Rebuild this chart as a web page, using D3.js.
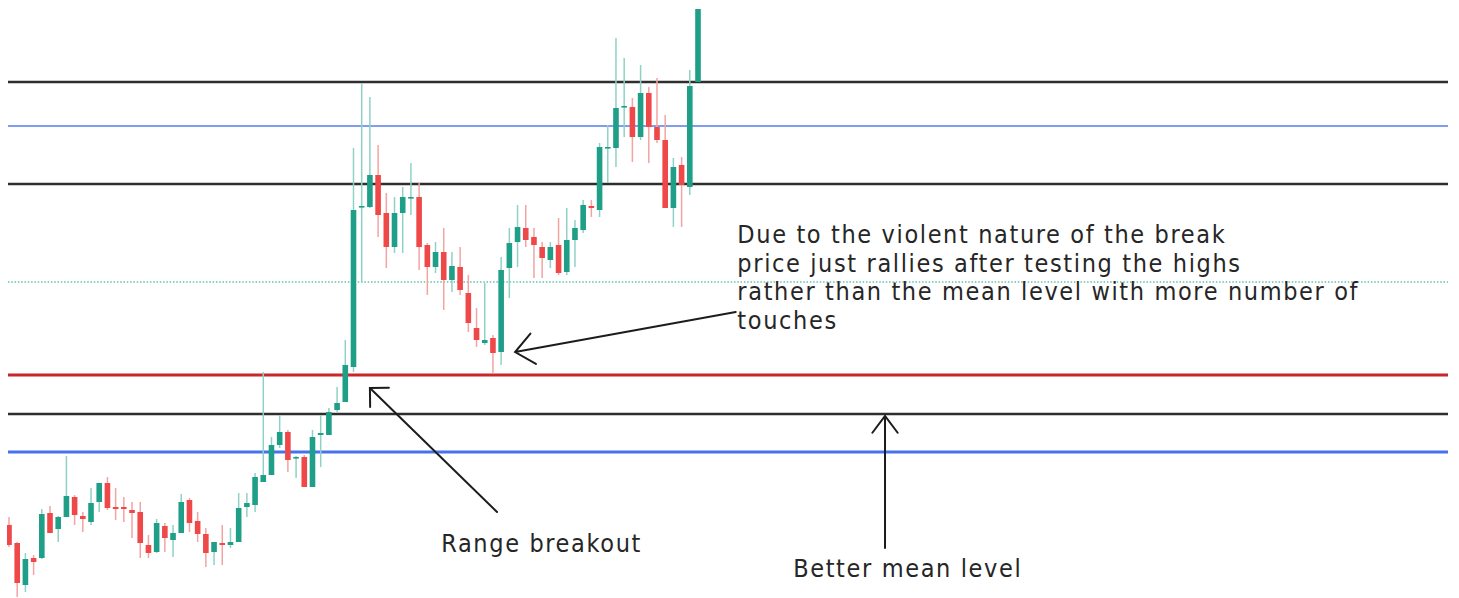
<!DOCTYPE html>
<meta charset="utf-8">
<style>
    body {
        margin: 0;
        background: #fff;
    }

    svg {
        display: block;
    }

    .wick {
        stroke-width: 1.5;
    }

    .note {
        font-family: "DejaVu Sans Condensed", "DejaVu Sans", sans-serif;
        font-size: 25px;
        fill: #262626;
    }

    .arrow {
        fill: none;
        stroke: #1c1c1c;
        stroke-width: 2;
        stroke-linecap: round;
    }
</style>
<body>
<script src="https://cdn.jsdelivr.net/npm/d3@7"></script>
<script>
    const width = 1459;
    const height = 598;

    // candles (price units, 0 = bottom of view)
    const opens = [75,57,15,42,42,87,71,83,103,84, 78,98,117,93,93,90,88,55,48,74,
        60,67,100,79,66,48,57,55,58,93, 95,118,125,155,168,142,143,113,165,165,
        190,198,233,393,393,425,387,353,387,402, 403,355,333,348,320,333,307,272,257,262,
        248,332,358,372,363,353,340,355,328,360, 370,394,390,452,452,493,493,463,507,473,
        460,392,435,413,518];
    const highs = [83,58,47,45,91,94,84,144,105,88, 112,117,123,112,103,98,98,65,81,77,
        75,106,102,88,72,58,75,72,107,107, 127,228,163,185,170,144,145,170,185,192,
        213,260,452,517,503,455,407,403,413,437, 417,357,358,372,348,353,325,292,317,265,
        343,372,395,395,372,358,358,382,392,380, 400,400,457,475,562,542,502,535,513,522,
        485,442,443,530,591];
    const lows = [53,3,8,25,41,67,58,83,75,68, 75,88,90,80,78,62,42,42,47,48,
        43,67,68,58,33,35,35,52,58,83, 88,118,125,152,128,122,113,113,133,165,
        188,198,228,318,392,363,332,347,347,385, 330,305,327,290,308,305,268,253,255,227,
        235,302,333,353,322,322,332,325,325,333, 367,383,383,417,433,463,438,460,437,457,
        392,373,373,405,518];
    const closes = [55,17,41,38,86,67,83,104,85,81, 97,117,92,91,91,87,57,47,77,62,
        67,98,77,66,47,58,55,58,92,97, 123,125,155,168,140,143,113,163,167,188,
        197,235,390,394,425,385,353,387,403,403, 353,333,348,320,334,310,277,260,260,247,
        330,357,373,360,355,342,353,327,360,372, 395,392,453,453,492,494,463,507,473,460,
        392,433,415,514,591];

    // horizontal levels
    const levelNames = ["top", "upperMean", "rangeHigh", "mid", "breakout", "betterMean", "lowerMean"];
    const levelValues = [518, 474, 416, 318, 225, 186, 148];

    const noteLines = [
        "Due to the violent nature of the break",
        "price just rallies after testing the highs",
        "rather than the mean level with more number of",
        "touches"
    ];

    const levelStyle = {
        top:        {stroke: "#2e2e2e", width: 2.5},
        upperMean:  {stroke: "#7f9ef2", width: 1.8},
        rangeHigh:  {stroke: "#2e2e2e", width: 2.5},
        mid:        {stroke: "#8ccfc3", width: 1.8, dash: "1.5,1.8"},
        breakout:   {stroke: "#c8272b", width: 3},
        betterMean: {stroke: "#2e2e2e", width: 2.5},
        lowerMean:  {stroke: "#4672ee", width: 3}
    };

    const up = "#1f9e88", down = "#ef4848";
    const upWick = "#8fd2c5", downWick = "#f4a3a3";

    const n = opens.length;
    const xScale = d3.scaleLinear().domain([0, n - 1]).range([9, 698]);
    const yScale = d3.scaleLinear().domain([0, 600]).range([600, 0]);

    const svg = d3.select("body").append("svg")
        .attr("width", width)
        .attr("height", height);

    svg.append("defs").append("clipPath").attr("id", "plot")
        .append("rect").attr("x", 7).attr("y", 0).attr("width", 1442).attr("height", height);

    const plot = svg.append("g").attr("clip-path", "url(#plot)");

    // levels
    plot.append("g").selectAll("line")
        .data(levelNames)
        .enter().append("line")
        .attr("x1", 8)
        .attr("x2", 1448)
        .attr("y1", (d, i) => yScale(levelValues[i]))
        .attr("y2", (d, i) => yScale(levelValues[i]))
        .attr("stroke", d => levelStyle[d].stroke)
        .attr("stroke-width", d => levelStyle[d].width)
        .attr("stroke-dasharray", d => levelStyle[d].dash || null);

    // candles
    const candles = plot.append("g").selectAll("g")
        .data(d3.range(n))
        .enter().append("g");

    candles.append("line")
        .attr("class", "wick")
        .attr("x1", i => xScale(i))
        .attr("x2", i => xScale(i))
        .attr("y1", i => yScale(highs[i]))
        .attr("y2", i => yScale(lows[i]))
        .attr("stroke", i => closes[i] >= opens[i] ? upWick : downWick);

    candles.append("rect")
        .attr("x", i => xScale(i) - 2.8)
        .attr("width", 5.6)
        .attr("y", i => yScale(Math.max(opens[i], closes[i])))
        .attr("height", i => Math.max(1.6, Math.abs(yScale(opens[i]) - yScale(closes[i]))))
        .attr("fill", i => closes[i] >= opens[i] ? up : down);

    // annotation arrows, placed in candle index / price units
    function arrow(tail, tip, len, spread) {
        const x0 = xScale(tail[0]), y0 = yScale(tail[1]);
        const x1 = xScale(tip[0]), y1 = yScale(tip[1]);
        const a = Math.atan2(y0 - y1, x0 - x1);
        const s = spread * Math.PI / 180;
        const p = d3.path();
        p.moveTo(x0, y0);
        p.lineTo(x1, y1);
        p.moveTo(x1 + len * Math.cos(a - s), y1 + len * Math.sin(a - s));
        p.lineTo(x1, y1);
        p.lineTo(x1 + len * Math.cos(a + s), y1 + len * Math.sin(a + s));
        svg.append("path").attr("class", "arrow").attr("d", p.toString());
    }

    arrow([88.6, 288], [61.7, 248], 24, 40);
    arrow([59.5, 88], [44.0, 212], 19, 45);
    arrow([106.8, 52], [106.8, 184], 21, 37);

    // notes
    const note = svg.append("g");
    note.selectAll("text")
        .data(noteLines)
        .enter().append("text")
        .attr("class", "note")
        .attr("x", xScale(88.8))
        .attr("y", (d, i) => yScale(357 - i * 28.6))
        .text(d => d);

    svg.append("text").attr("class", "note")
        .attr("x", xScale(52.7)).attr("y", yScale(48))
        .text("Range breakout");

    svg.append("text").attr("class", "note")
        .attr("x", xScale(95.6)).attr("y", yScale(23))
        .text("Better mean level");

    // the picture's lettering is narrow-ish but widely set: open the tracking
    // so the first note line spans what it does there
    const first = note.select("text").node();
    const chars = noteLines[0].length;
    const ls = (489 - first.getComputedTextLength()) / chars;
    svg.selectAll(".note").style("letter-spacing", ls + "px");
</script>
</body>
</html>
